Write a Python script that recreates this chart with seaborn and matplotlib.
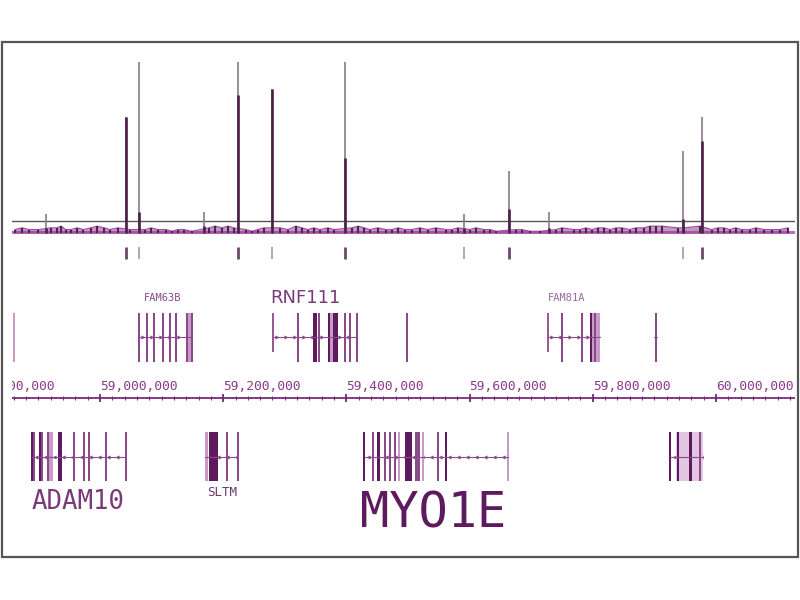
import numpy as np
import pandas as pd
import matplotlib
matplotlib.use("Agg")
import matplotlib.pyplot as plt
from matplotlib.patches import Rectangle
import seaborn as sns

# ---- data (positions in kb on the chromosome) ----
peak_kb = [58912, 59042, 59063, 59169, 59224, 59279, 59398, 59591, 59664, 59729, 59946, 59977]
peak_max = [11, 68, 100, 12, 100, 84, 100, 11, 36, 12, 48, 68]
peak_inner = [3, 68, 12, 4, 81, 84, 44, 3, 14, 3, 8, 54]
threshold = 7

noise_kb = [58862, 58874, 58884, 58900, 58920, 58930, 58937, 58944, 58953, 58963,
            58973, 58985, 58995, 59007, 59016, 59029, 59049, 59073, 59083, 59094,
            59107, 59117, 59126, 59136, 59149, 59177, 59187, 59198, 59208, 59217,
            59237, 59247, 59256, 59266, 59292, 59305, 59318, 59328, 59337, 59347,
            59357, 59370, 59380, 59409, 59419, 59429, 59438, 59451, 59464, 59474,
            59484, 59495, 59506, 59519, 59532, 59545, 59562, 59571, 59581, 59601,
            59610, 59623, 59633, 59643, 59675, 59685, 59698, 59714, 59740, 59750,
            59769, 59779, 59789, 59799, 59808, 59818, 59828, 59838, 59847, 59860,
            59870, 59883, 59893, 59903, 59912, 59938, 59948, 59974, 59993, 60003,
            60013, 60022, 60032, 60042, 60055, 60065, 60078, 60091, 60104, 60117]
noise_val = [2, 3, 2, 2, 3, 3, 4, 2, 2, 3,
             2, 3, 4, 3, 2, 3, 2, 2, 3, 2,
             2, 1, 2, 2, 1, 3, 4, 3, 4, 3,
             2, 1, 2, 3, 3, 2, 4, 3, 2, 3,
             2, 3, 2, 3, 4, 3, 2, 3, 2, 2,
             3, 2, 2, 3, 2, 3, 2, 2, 3, 2,
             3, 2, 2, 1, 2, 2, 1, 1, 2, 3,
             2, 2, 3, 2, 3, 3, 2, 3, 3, 2,
             3, 3, 4, 4, 4, 3, 3, 4, 2, 3,
             3, 2, 3, 2, 2, 3, 2, 2, 2, 3]

call_kb = [59042, 59063, 59224, 59279, 59398, 59591, 59664, 59946, 59977]
call_strong = [True, False, True, False, True, False, True, False, True]

genes_top = ["stub", "FAM63B", "RNF111", "single", "FAM81A", "small"]
genes_bottom = ["ADAM10", "SLTM", "MYO1E", "right"]
introns = {
    "FAM63B": (59063, 59149), "RNF111": (59281, 59417), "FAM81A": (59727, 59812),
    "small": (59900, 59905),
    "ADAM10": (58890, 59042), "SLTM": (59170, 59224), "MYO1E": (59429, 59662),
    "right": (59925, 59979),
}
# exons: gene -> list of (start kb, end kb, shade)
exons = {
    "stub": [(58859, 58861, "light")],
    "FAM63B": [(59063, 59063, "mid"), (59076, 59076, "mid"), (59088, 59088, "mid"),
               (59102, 59102, "mid"), (59114, 59114, "mid"), (59123, 59123, "mid"),
               (59141, 59149, "light"), (59141, 59141, "mid"), (59149, 59149, "mid")],
    "RNF111": [(59321, 59321, "mid"), (59346, 59352, "dark"), (59356, 59356, "mid"),
               (59370, 59386, "dark"), (59374, 59378, "light"), (59398, 59398, "mid"),
               (59406, 59406, "mid"), (59417, 59417, "mid")],
    "single": [(59498, 59498, "mid")],
    "FAM81A": [(59750, 59750, "mid"), (59782, 59782, "mid"), (59797, 59812, "light"),
               (59797, 59797, "dark"), (59803, 59803, "mid")],
    "small": [(59902, 59904, "mid")],
    "ADAM10": [(58890, 58890, "dark"), (58893, 58893, "mid"), (58903, 58903, "dark"),
               (58906, 58906, "mid"), (58914, 58924, "light"), (58916, 58916, "mid"),
               (58932, 58938, "dark"), (58958, 58958, "mid"), (58972, 58976, "mid"),
               (58982, 58982, "mid"), (59010, 59010, "mid"), (59042, 59042, "mid")],
    "SLTM": [(59170, 59175, "light"), (59177, 59192, "dark"), (59206, 59206, "mid"),
             (59224, 59224, "mid")],
    "MYO1E": [(59429, 59429, "dark"), (59443, 59443, "mid"), (59450, 59455, "dark"),
              (59463, 59463, "mid"), (59471, 59471, "mid"), (59479, 59479, "mid"),
              (59485, 59485, "light"), (59495, 59507, "dark"), (59511, 59520, "mid"),
              (59524, 59524, "light"), (59549, 59549, "mid"), (59562, 59562, "dark"),
              (59662, 59662, "light")],
    "right": [(59935, 59979, "pale"), (59925, 59925, "dark"), (59938, 59938, "dark"),
              (59956, 59961, "dark"), (59974, 59974, "mid")],
}
tss_kb = [59281, 59727]

labels_top = [("FAM63B", 59102, 7.5, "#8a4a8a"), ("RNF111", 59333, 13, "#7a3a7a"),
              ("FAM81A", 59758, 7.5, "#9a6a9a")]
labels_bottom = [("ADAM10", 58964, 18.5, 502, "#7a3a7a"), ("SLTM", 59198, 9, 493, "#6a3a6a"),
                 ("MYO1E", 59540, 35, 513, "#5e1a5e")]

# ---- style ----
sns.set_theme(style="white")
plt.rcParams["font.family"] = ["DejaVu Sans Mono", "DejaVu Sans"]
shade = {"dark": "#5e1a5e", "mid": "#8a4a8a", "light": "#c79ac7", "pale": "#e3c6e3"}
XMIN, XMAX = 58857.1, 60128.3
W_PX = 800.0
H_PX = 600.0

fig = plt.figure(figsize=(8, 6), dpi=100)

# frame around everything
fig.patches.append(Rectangle((2 / W_PX, (H_PX - 557) / H_PX), 796 / W_PX, 515 / H_PX,
                             transform=fig.transFigure, fill=False, ec="#555555", lw=1.6))

# ---- signal track ----
ax_sig = fig.add_axes([12 / W_PX, (H_PX - 236) / H_PX, 783 / W_PX, 181 / H_PX])
ax_sig.set_xlim(XMIN, XMAX)
ax_sig.set_ylim(-1.75, 104.1)
ax_sig.axis("off")

noise_df = pd.DataFrame({"kb": noise_kb, "val": noise_val})
ax_sig.fill_between([XMIN, XMAX], -0.7, 0.9, color="#c264c2", lw=0)
ax_sig.fill_between(noise_df["kb"], 0, noise_df["val"], color="#8a4a8a", alpha=0.55, lw=0)
sns.lineplot(data=noise_df, x="kb", y="val", ax=ax_sig, color="#a050a0", lw=0.9,
             legend=False)
ax_sig.vlines(noise_df["kb"], 0, noise_df["val"], color="#4f234f", lw=1.5)
ax_sig.axhline(threshold, color="#555555", lw=1.0)
ax_sig.vlines(peak_kb, 0, peak_max, color="#8a7a8a", lw=1.2)
ax_sig.vlines(peak_kb, 0, peak_inner, color="#4a1f4a", lw=1.9)

# ---- annotation area (y in pixel rows for layout) ----
ax = fig.add_axes([12 / W_PX, (H_PX - 556) / H_PX, 783 / W_PX, 316 / H_PX])
ax.set_xlim(XMIN, XMAX)
ax.set_ylim(556, 240)
ax.axis("off")

for kb, strong in zip(call_kb, call_strong):
    ax.vlines(kb, 247, 259, color="#6a4a6a" if strong else "#a896a8", lw=2.0 if strong else 1.2)

px_kb = (XMAX - XMIN) / 783.0


def draw_gene(name, top, bottom, mid, arrow):
    if name in introns:
        a, b = introns[name]
        ax.plot([a, b], [mid, mid], color="#8a4a8a", lw=0.8)
        pts = np.arange(a + 4 * px_kb, b - 2 * px_kb, 9 * px_kb)
        ax.scatter(pts, [mid] * len(pts), marker=arrow, s=9, color="#8a4a8a", lw=0)
    for s, e, sh in exons[name]:
        w = max(e - s, 1.8 * px_kb)
        ax.bar(s + (e - s) / 2, bottom - top, bottom=top, width=w, color=shade[sh], lw=0)


for g in genes_top:
    draw_gene(g, 313, 362, 337, ">")
ax.vlines(tss_kb, 313, 352, color="#8a4a8a", lw=1.3)
for g in genes_bottom:
    draw_gene(g, 432, 481, 457, "<")

for name, kb, fs, col in labels_top:
    fam = ["DejaVu Sans"] if name == "RNF111" else ["DejaVu Sans Mono"]
    ax.text(kb, 298, name, ha="center", va="center", fontsize=fs, color=col, family=fam)
for name, kb, fs, y, col in labels_bottom:
    ax.text(kb, y, name, ha="center", va="center", fontsize=fs, color=col,
            family=["DejaVu Sans Mono"])

# coordinate ruler
ax.plot([XMIN, XMAX], [398, 398], color="#7a2a7a", lw=1.3)
major = np.arange(58800, 60001, 200)
minor = np.arange(58800, 60130, 20)
ax.vlines(minor, 396, 400, color="#7a2a7a", lw=0.8)
ax.vlines(major, 394, 402, color="#7a2a7a", lw=1.3)
for m in major:
    ax.text(m, 387, f"{int(m * 1000):,}", ha="left", va="center", fontsize=9.3,
            color="#8b3a8b", family=["DejaVu Sans Mono"], clip_on=True)

fig.savefig("out.png", dpi=100)
